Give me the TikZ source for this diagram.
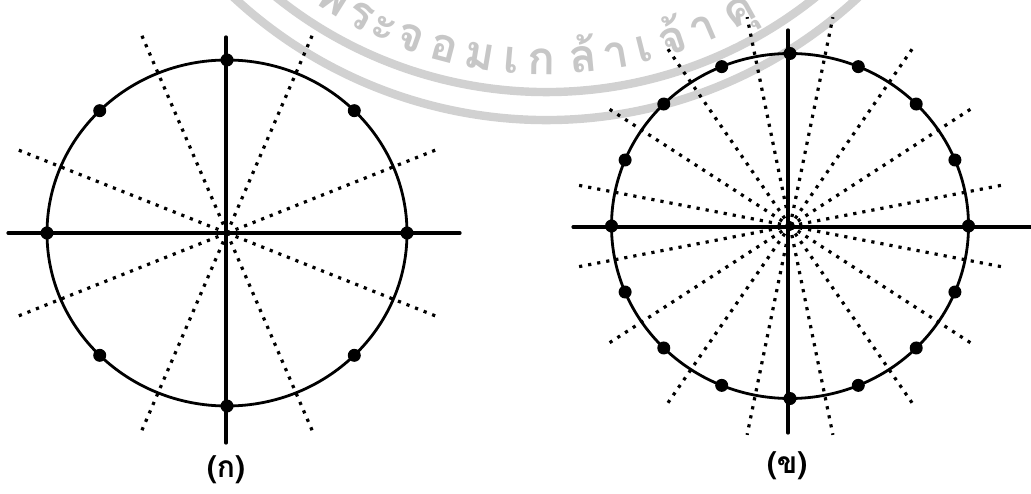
\documentclass[tikz,border=0pt]{standalone}
\usepackage{fontspec}
\newfontfamily\thaifont[Script=Thai]{Loma}
\begin{document}
\begin{tikzpicture}[x=0.5pt,y=0.5pt,line join=round,line cap=round,thick]
	\tikzset{every node/.style={inner sep=0pt},
		axis/.style={line width=1.6pt},
		rim/.style={line width=1.4pt},
		dotline/.style={line width=1.6pt,line cap=butt,dash pattern=on 1.6pt off 3pt},
		wmark/.style={draw=black!18,line width=4.2pt},
		wtext/.style={text=black!22,font=\thaifont\bfseries\fontsize{23}{23}\selectfont,anchor=base}}
	\useasboundingbox (0,0) rectangle (1031,493);
	% watermark
	\begin{scope}
		\clip (0,0) rectangle (1031,493);
		\coordinate (wc) at (546,831.5);
		\draw[wmark] (wc) ++(-150:430.5) arc (-150:-30:430.5);
		\draw[wmark] (wc) ++(-150:458.5) arc (-150:-30:458.5);
		\foreach \t/\ang [count=\i] in {พ/-122.2,ร/-117.7,ะ/-113.9,จ/-109.8,อ/-104.8,ม/-99.6,เ/-95.0,ก/-90.6,ล้/-84.6,า/-80.0,เ/-75.8,จ้/-71.4,า/-66.8,คุ/-61.0}
		\path (wc) ++(\ang:413) node[wtext,rotate=\ang+90] (wm\i) {\t};
	\end{scope}
	% (a) eight points
	\coordinate (A) at (227,260);
	\draw[axis] (8,260) -- (460,260);
	\draw[axis] (226,456) -- (226,50);
	\foreach \a in {22.5,67.5,...,337.5}
	\draw[dotline] (A) -- ++({228*cos(\a)},{219*sin(\a)});
	\draw[rim] (A) ellipse [x radius=180, y radius=173];
	\foreach \a in {0,45,...,315}
	\fill (A) ++({180*cos(\a)},{173*sin(\a)}) circle[radius=6.5];
	\node[font=\thaifont\bfseries\fontsize{15}{15}\selectfont] (capA) at (226,23) {(ก)};
	% (b) sixteen points
	\coordinate (B) at (790,267);
	\draw[axis] (573,266) -- (1031,266);
	\draw[axis] (788,463) -- (788,60);
	\foreach \a in {11.25,33.75,...,348.75}
	\draw[dotline] (B) -- ++({220*cos(\a)},{213*sin(\a)});
	\fill (B) circle[radius=5];
	\draw[rim] (B) ellipse [x radius=178.5, y radius=172.5];
	\foreach \a in {0,22.5,...,337.5}
	\fill (B) ++({178.5*cos(\a)},{172.5*sin(\a)}) circle[radius=6.5];
	\node[font=\thaifont\bfseries\fontsize{15}{15}\selectfont] (capB) at (787,27) {(ข)};
\end{tikzpicture}
\end{document}
